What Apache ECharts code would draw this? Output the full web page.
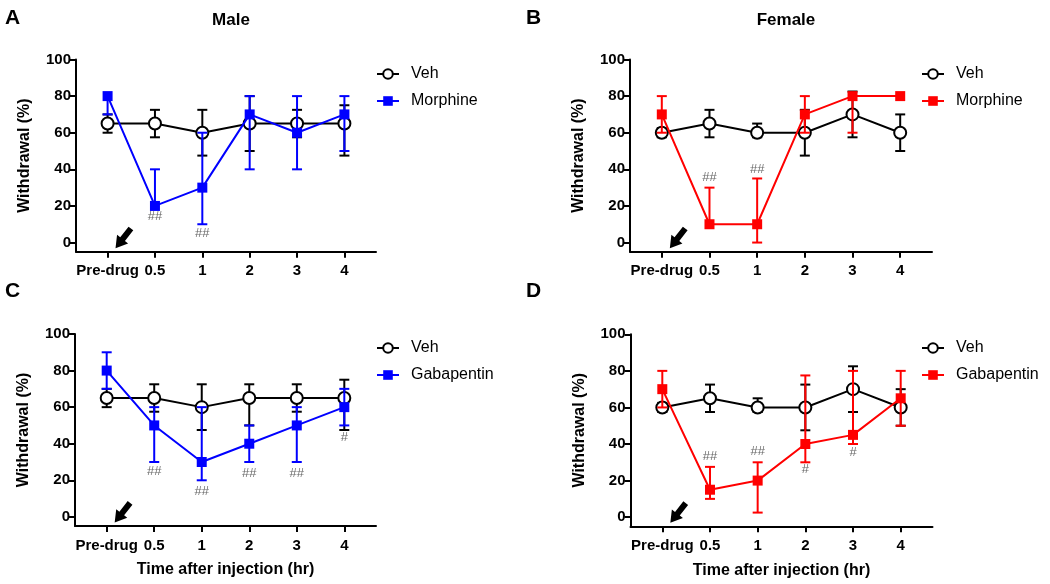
<!DOCTYPE html>
<html>
<head>
<meta charset="utf-8">
<script src="https://cdn.jsdelivr.net/npm/echarts@6/dist/echarts.min.js"></script>
<style>html,body{margin:0;padding:0;background:#fff;}#c{width:1050px;height:584px;}</style>
</head>
<body>
<div id="c"></div>
<script>
// ---- data ----
const categories = ['Pre-drug', '0.5', '1', '2', '3', '4'];
const yTicks = [0, 20, 40, 60, 80, 100];

const A_veh = [65, 65, 60, 65, 65, 65];
const A_vehLow = [60, 57.5, 47.5, 50, 57.5, 47.5];
const A_vehHigh = [70, 72.5, 72.5, 80, 72.5, 75];
const A_drug = [80, 20, 30, 70, 60, 70];
const A_drugLow = [70, 20, 10, 40, 40, 50];
const A_drugHigh = [80, 40, 60, 80, 80, 80];

const B_veh = [60, 65, 60, 60, 70, 60];
const B_vehLow = [57.5, 57.5, 57.5, 47.5, 57.5, 50];
const B_vehHigh = [62.5, 72.5, 65, 72.5, 82.5, 70];
const B_drug = [70, 10, 10, 70, 80, 80];
const B_drugLow = [60, 10, 0, 60, 60, 80];
const B_drugHigh = [80, 30, 35, 80, 80, 80];

const C_veh = [65, 65, 60, 65, 65, 65];
const C_vehLow = [60, 57.5, 47.5, 50, 57.5, 47.5];
const C_vehHigh = [70, 72.5, 72.5, 72.5, 72.5, 75];
const C_drug = [80, 50, 30, 40, 50, 60];
const C_drugLow = [70, 30, 20, 30, 30, 50];
const C_drugHigh = [90, 60, 60, 50, 60, 70];

const D_veh = [60, 65, 60, 60, 70, 60];
const D_vehLow = [57.5, 57.5, 57.5, 47.5, 57.5, 50];
const D_vehHigh = [62.5, 72.5, 65, 72.5, 82.5, 70];
const D_drug = [70, 15, 20, 40, 45, 65];
const D_drugLow = [60, 10, 2.5, 30, 40, 50];
const D_drugHigh = [80, 27.5, 30, 77.5, 80, 80];

// significance marks: [category index, y value, text]
const A_marks = [[1, 14, '##'], [2, 5, '##']];
const B_marks = [[1, 35.5, '##'], [2, 39.7, '##']];
const C_marks = [[1, 24.6, '##'], [2, 13.7, '##'], [3, 23.7, '##'], [4, 23.7, '##'], [5, 43.5, '#']];
const D_marks = [[1, 33.2, '##'], [2, 36, '##'], [3, 26, '#'], [4, 35.4, '#']];

// injection arrow position (value coords)
const arrowPos = [0.33, 2.3];

// ---- build ----
const FONT = 'Liberation Sans, Arial, sans-serif';
const panels = [
  {key: 'A', title: 'Male', drugName: 'Morphine', color: '#0000ff', veh: A_veh, vL: A_vehLow, vH: A_vehHigh, d: A_drug, dL: A_drugLow, dH: A_drugHigh, marks: A_marks,
   grid: {left: 76, top: 59.5, width: 300, height: 192.2}, legend: {left: 371, top: 61}, xName: ''},
  {key: 'B', title: 'Female', drugName: 'Morphine', color: '#ff0000', veh: B_veh, vL: B_vehLow, vH: B_vehHigh, d: B_drug, dL: B_drugLow, dH: B_drugHigh, marks: B_marks,
   grid: {left: 630, top: 59.5, width: 302, height: 192.2}, legend: {left: 916, top: 61}, xName: ''},
  {key: 'C', title: '', drugName: 'Gabapentin', color: '#0000ff', veh: C_veh, vL: C_vehLow, vH: C_vehHigh, d: C_drug, dL: C_drugLow, dH: C_drugHigh, marks: C_marks,
   grid: {left: 75, top: 334, width: 301, height: 192}, legend: {left: 371, top: 335}, xName: 'Time after injection (hr)'},
  {key: 'D', title: '', drugName: 'Gabapentin', color: '#ff0000', veh: D_veh, vL: D_vehLow, vH: D_vehHigh, d: D_drug, dL: D_drugLow, dH: D_drugHigh, marks: D_marks,
   grid: {left: 630.5, top: 334.3, width: 302, height: 192}, legend: {left: 916, top: 335}, xName: 'Time after injection (hr)'}
];

function errRender(color, lw) {
  return function (params, api) {
    const x = api.value(0), m = api.value(1), lo = api.value(2), hi = api.value(3);
    const pLo = api.coord([x, lo]);
    const pHi = api.coord([x, hi]);
    const hw = 5;
    const children = [];
    if (hi > lo) {
      children.push({type: 'line', shape: {x1: pLo[0], y1: pLo[1], x2: pHi[0], y2: pHi[1]}, style: {stroke: color, lineWidth: lw}});
    }
    if (lo < m) children.push({type: 'line', shape: {x1: pLo[0] - hw, y1: pLo[1], x2: pLo[0] + hw, y2: pLo[1]}, style: {stroke: color, lineWidth: lw}});
    if (hi > m) children.push({type: 'line', shape: {x1: pHi[0] - hw, y1: pHi[1], x2: pHi[0] + hw, y2: pHi[1]}, style: {stroke: color, lineWidth: lw}});
    return {type: 'group', children: children};
  };
}

const option = {
  animation: false,
  backgroundColor: '#fff',
  textStyle: {fontFamily: FONT},
  grid: [], xAxis: [], yAxis: [], series: [], legend: [], title: []
};

const letterPos = {A: [0, 3], B: [521, 3], C: [0, 276], D: [521, 276]};

panels.forEach((p, i) => {
  option.grid.push(Object.assign({containLabel: false}, p.grid));
  option.xAxis.push({
    type: 'value', gridIndex: i, min: -0.667, max: 5.667,
    name: p.xName, nameLocation: 'middle', nameGap: 36,
    nameTextStyle: {fontSize: 16, fontWeight: 'bold', color: '#000', fontFamily: FONT},
    axisLine: {show: true, onZero: false, lineStyle: {color: '#000', width: 2}},
    axisTick: {show: true, customValues: [0, 1, 2, 3, 4, 5], length: 6, lineStyle: {color: '#000', width: 2}},
    axisLabel: {customValues: [0, 1, 2, 3, 4, 5], formatter: v => categories[Math.round(v)], fontSize: 15, fontWeight: 'bold', color: '#000', margin: 12, fontFamily: FONT},
    splitLine: {show: false}
  });
  option.yAxis.push({
    type: 'value', gridIndex: i, min: -5, max: 100,
    name: 'Withdrawal (%)', nameLocation: 'middle', nameGap: 43,
    nameTextStyle: {fontSize: 16, fontWeight: 'bold', color: '#000', fontFamily: FONT},
    axisLine: {show: true, onZero: false, lineStyle: {color: '#000', width: 2}},
    axisTick: {show: true, customValues: yTicks, length: 6, lineStyle: {color: '#000', width: 2}},
    axisLabel: {customValues: yTicks, fontSize: 15, fontWeight: 'bold', color: '#000', margin: 5, fontFamily: FONT},
    splitLine: {show: false}
  });
  const vehName = p.key + ':Veh';
  const drugName = p.key + ':' + p.drugName;
  option.series.push({
    type: 'custom', xAxisIndex: i, yAxisIndex: i, z: 1, silent: true,
    renderItem: errRender('#000', 2),
    data: p.veh.map((v, k) => [k, v, p.vL[k], p.vH[k]])
  });
  option.series.push({
    name: vehName, type: 'line', xAxisIndex: i, yAxisIndex: i, z: 2,
    data: p.veh.map((v, k) => [k, v]),
    symbol: 'circle', symbolSize: 12, showAllSymbol: true,
    lineStyle: {color: '#000', width: 2},
    itemStyle: {color: '#fff', borderColor: '#000', borderWidth: 2}
  });
  option.series.push({
    type: 'custom', xAxisIndex: i, yAxisIndex: i, z: 3, silent: true,
    renderItem: errRender(p.color, 2),
    data: p.d.map((v, k) => [k, v, p.dL[k], p.dH[k]])
  });
  option.series.push({
    name: drugName, type: 'line', xAxisIndex: i, yAxisIndex: i, z: 4,
    data: p.d.map((v, k) => [k, v]),
    symbol: 'rect', symbolSize: 10, showAllSymbol: true,
    lineStyle: {color: p.color, width: 2},
    itemStyle: {color: p.color, borderColor: p.color, borderWidth: 0}
  });
  option.series.push({
    type: 'scatter', xAxisIndex: i, yAxisIndex: i, z: 5, silent: true,
    symbolSize: 1, itemStyle: {color: 'rgba(0,0,0,0)'},
    data: p.marks.map(m => ({value: [m[0], m[1]], label: {formatter: m[2]}})),
    label: {show: true, position: 'inside', color: '#444', fontSize: 13, fontFamily: FONT}
  });
  option.series.push({
    type: 'scatter', xAxisIndex: i, yAxisIndex: i, z: 5, silent: true,
    symbol: 'path://M4,0 L10,0 L10,13 L14,13 L7,24 L0,13 L4,13 Z',
    symbolSize: [14, 25], symbolKeepAspect: false, symbolRotate: -38,
    itemStyle: {color: '#000', opacity: 1},
    data: [arrowPos]
  });
  option.legend.push({
    orient: 'vertical', left: p.legend.left, top: p.legend.top,
    itemWidth: 22, itemHeight: 12, itemGap: 11,
    data: [vehName, drugName],
    formatter: n => n.split(':')[1],
    textStyle: {fontSize: 16, color: '#000', fontFamily: FONT, padding: [0, 0, 0, 7]},
    selectedMode: false
  });
  const lp = letterPos[p.key];
  option.title.push({text: p.key, left: lp[0], top: lp[1], textStyle: {fontSize: 21, fontWeight: 'bold', color: '#000', fontFamily: FONT}});
  if (p.title) {
    option.title.push({text: p.title, left: p.grid.left + p.grid.width / 2, top: 7, textAlign: 'center', textStyle: {fontSize: 17, fontWeight: 'bold', color: '#000', fontFamily: FONT}});
  }
});

const chart = echarts.init(document.getElementById('c'), null, {renderer: 'canvas'});
chart.setOption(option);
</script>
</body>
</html>
